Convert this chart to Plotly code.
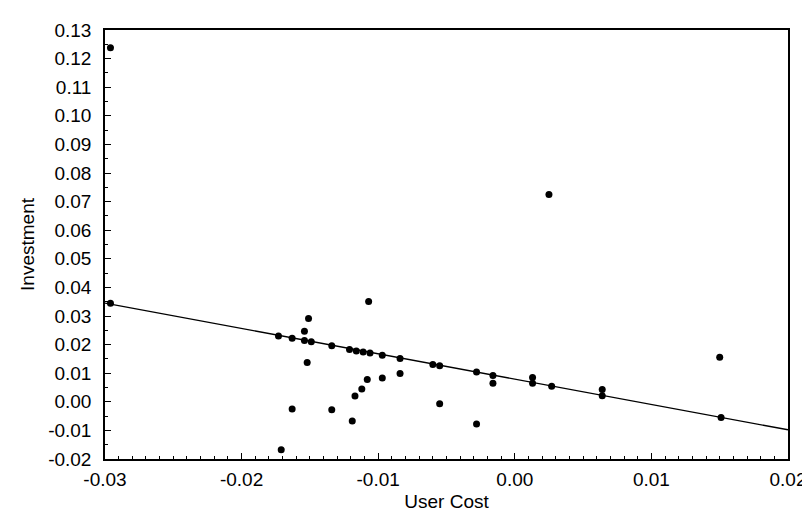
import plotly.graph_objects as go

# scatter points: user cost vs investment
user_cost = [
    -0.0296, -0.0296, 0.0025, -0.0173, -0.0163, -0.0154, -0.0151, -0.0154,
    -0.0149, -0.0152, -0.0163, -0.0171, -0.0134, -0.0134, -0.0121, -0.0116,
    -0.0111, -0.0106, -0.0107, -0.0097, -0.0097, -0.0108, -0.0112, -0.0117,
    -0.0119, -0.0084, -0.0084, -0.0060, -0.0055, -0.0055, -0.0028, -0.0028,
    -0.0016, -0.0016, 0.0013, 0.0013, 0.0027, 0.0064, 0.0064, 0.0150, 0.0151,
]
investment = [
    0.1238, 0.0345, 0.0725, 0.0230, 0.0222, 0.0247, 0.0291, 0.0214,
    0.0210, 0.0137, -0.0025, -0.0168, 0.0196, -0.0028, 0.0183, 0.0178,
    0.0174, 0.0171, 0.0351, 0.0163, 0.0083, 0.0078, 0.0045, 0.0020,
    -0.0067, 0.0151, 0.0099, 0.0130, 0.0126, -0.0007, 0.0104, -0.0078,
    0.0092, 0.0065, 0.0085, 0.0065, 0.0054, 0.0043, 0.0021, 0.0156, -0.0055,
]

# fitted regression line, endpoints at the axis limits
fit_x = [-0.03, 0.02]
fit_y = [0.0345, -0.0098]

x_ticks = [-0.03, -0.02, -0.01, 0.00, 0.01, 0.02]
y_ticks = [round(-0.02 + 0.01 * i, 2) for i in range(16)]

fig = go.Figure()

fig.add_trace(go.Scatter(
    x=fit_x, y=fit_y, mode="lines",
    line=dict(color="black", width=1.4),
    showlegend=False, hoverinfo="skip",
))

fig.add_trace(go.Scatter(
    x=user_cost, y=investment, mode="markers",
    marker=dict(color="black", size=7),
    showlegend=False,
))

tick_font = dict(family="Liberation Sans, Arial, sans-serif", size=19, color="black")
title_font = dict(family="Liberation Sans, Arial, sans-serif", size=19, color="black")

fig.update_xaxes(
    range=[-0.03, 0.02],
    tickvals=x_ticks, ticktext=["%.2f" % v for v in x_ticks],
    ticks="inside", ticklen=6, tickwidth=1, tickcolor="black",
    minor=dict(dtick=0.001, tick0=0, ticks="inside", ticklen=3, tickcolor="black", showgrid=False),
    showline=True, linecolor="black", linewidth=1.5, mirror=True,
    showgrid=False, zeroline=False,
    ticklabelstandoff=2,
    title=dict(text="User Cost", font=title_font, standoff=6),
    tickfont=tick_font,
)
fig.update_yaxes(
    range=[-0.02, 0.13],
    tickvals=y_ticks, ticktext=["%.2f" % v for v in y_ticks],
    ticks="inside", ticklen=6, tickwidth=1, tickcolor="black",
    minor=dict(dtick=0.005, tick0=0, ticks="inside", ticklen=3, tickcolor="black", showgrid=False),
    showline=True, linecolor="black", linewidth=1.5, mirror=True,
    showgrid=False, zeroline=False,
    ticklabelstandoff=8,
    title=dict(text="Investment", font=title_font, standoff=8),
    tickfont=tick_font,
)

fig.update_layout(
    width=810, height=513,
    margin=dict(l=97, r=19, t=15, b=62),
    plot_bgcolor="white", paper_bgcolor="white",
    font=tick_font,
)

fig.write_html("out.html")
